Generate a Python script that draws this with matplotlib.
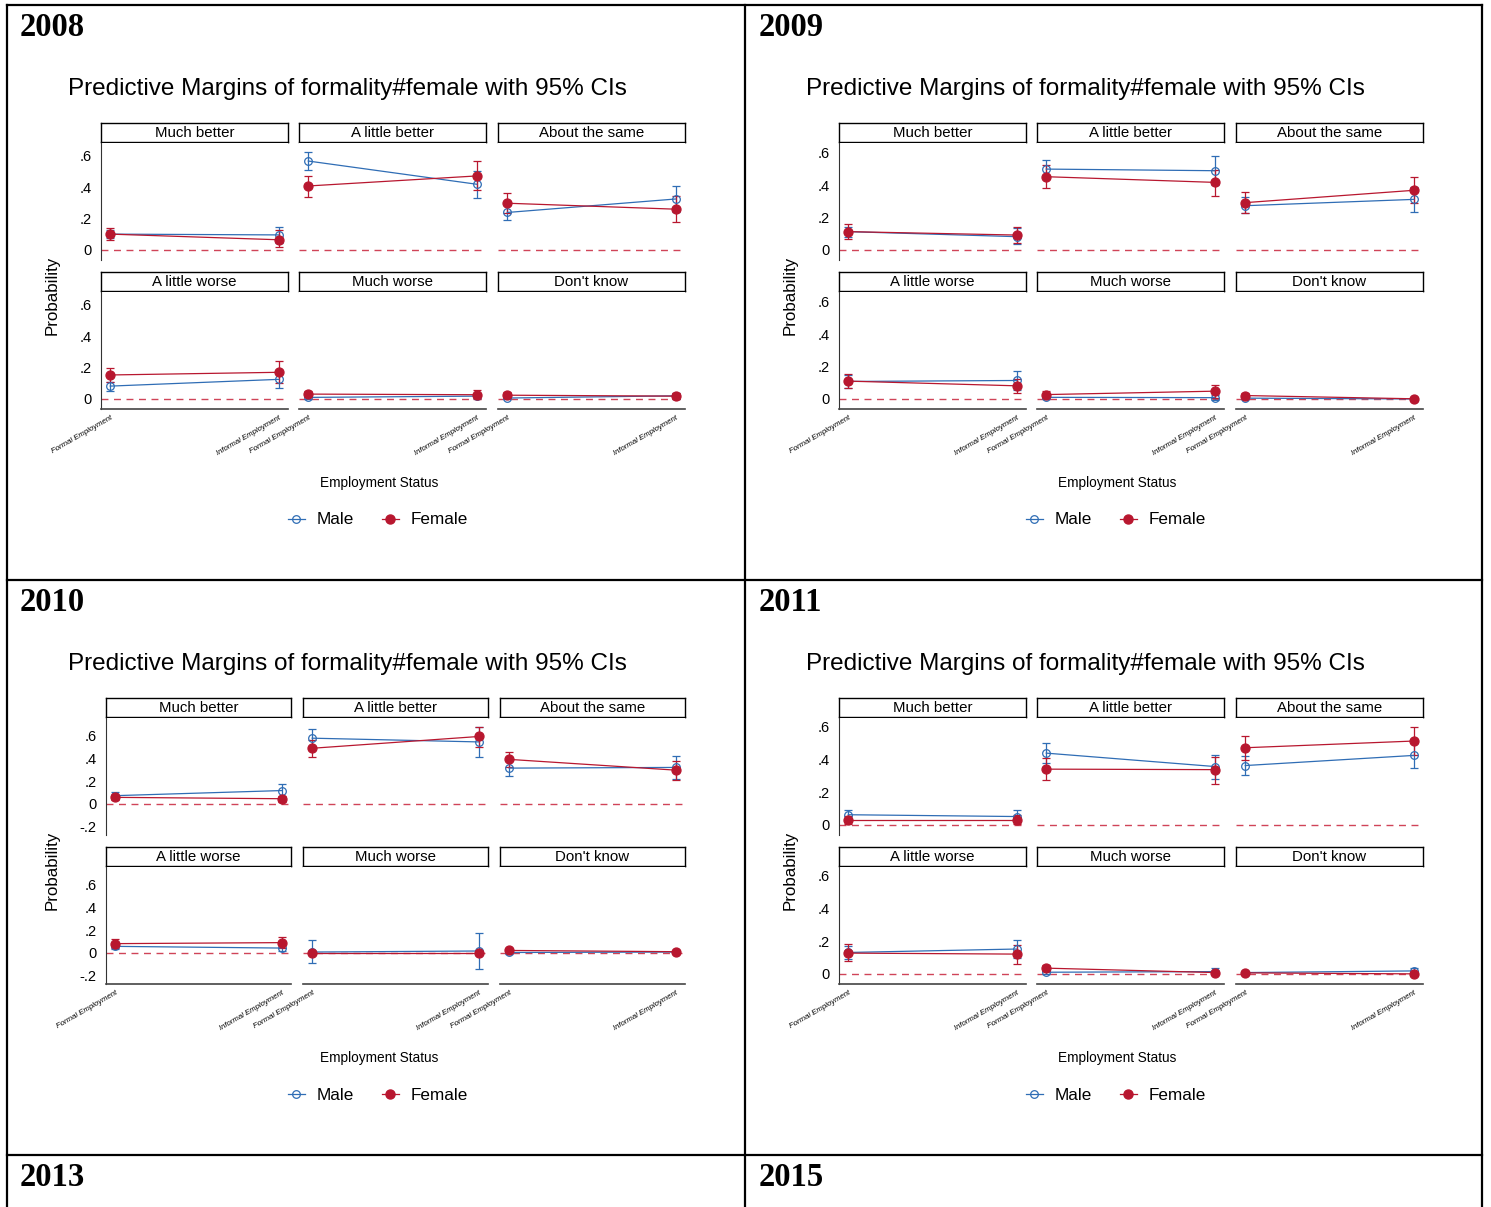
import matplotlib
matplotlib.use("Agg")
import matplotlib.pyplot as plt
from matplotlib.lines import Line2D

W, H = 1491, 1207

outcomes = ["Much better", "A little better", "About the same",
            "A little worse", "Much worse", "Don't know"]
status_labels = ["Formal Employment", "Informal Employment"]
years = ["2008", "2009", "2010", "2011"]
blank_years = ["2013", "2015"]

# (formal, informal) per outcome
male_2008 = [(0.100, 0.095), (0.566, 0.418), (0.238, 0.324), (0.081, 0.124), (0.009, 0.017), (0.005, 0.019)]
male_lo_2008 = [(0.075, 0.045), (0.509, 0.331), (0.190, 0.244), (0.049, 0.066), (0.000, 0.005), (0.000, 0.000)]
male_hi_2008 = [(0.128, 0.148), (0.624, 0.503), (0.286, 0.407), (0.109, 0.184), (0.020, 0.030), (0.012, 0.040)]
female_2008 = [(0.100, 0.064), (0.407, 0.471), (0.297, 0.259), (0.152, 0.169), (0.030, 0.026), (0.023, 0.017)]
female_lo_2008 = [(0.060, 0.017), (0.339, 0.380), (0.235, 0.176), (0.105, 0.098), (0.010, 0.000), (0.002, 0.000)]
female_hi_2008 = [(0.138, 0.127), (0.473, 0.568), (0.360, 0.340), (0.199, 0.241), (0.050, 0.055), (0.045, 0.038)]

male_2009 = [(0.113, 0.082), (0.499, 0.489), (0.273, 0.312), (0.108, 0.114), (0.010, 0.008), (0.005, 0.000)]
male_lo_2009 = [(0.080, 0.035), (0.452, 0.400), (0.226, 0.232), (0.070, 0.056), (0.000, -0.005), (0.000, 0.000)]
male_hi_2009 = [(0.144, 0.134), (0.555, 0.579), (0.325, 0.390), (0.145, 0.172), (0.020, 0.025), (0.010, 0.002)]
female_2009 = [(0.113, 0.092), (0.452, 0.417), (0.292, 0.368), (0.110, 0.081), (0.027, 0.048), (0.021, 0.001)]
female_lo_2009 = [(0.066, 0.041), (0.380, 0.333), (0.226, 0.288), (0.066, 0.035), (0.008, 0.006), (0.004, 0.000)]
female_hi_2009 = [(0.158, 0.144), (0.524, 0.493), (0.355, 0.452), (0.155, 0.124), (0.048, 0.087), (0.037, 0.003)]

male_2010 = [(0.071, 0.116), (0.578, 0.545), (0.314, 0.320), (0.056, 0.041), (0.006, 0.015), (0.002, 0.006)]
male_lo_2010 = [(0.045, 0.056), (0.500, 0.415), (0.243, 0.219), (0.036, 0.015), (-0.095, -0.148), (-0.010, 0.000)]
male_hi_2010 = [(0.100, 0.175), (0.658, 0.675), (0.385, 0.420), (0.095, 0.065), (0.110, 0.175), (0.012, 0.012)]
female_2010 = [(0.056, 0.044), (0.489, 0.593), (0.391, 0.296), (0.080, 0.089), (0.000, 0.000), (0.020, 0.009)]
female_lo_2010 = [(0.030, 0.015), (0.415, 0.504), (0.323, 0.213), (0.044, 0.044), (-0.005, -0.005), (0.010, 0.000)]
female_hi_2010 = [(0.080, 0.071), (0.563, 0.681), (0.456, 0.376), (0.119, 0.139), (0.005, 0.005), (0.030, 0.018)]

male_2011 = [(0.062, 0.051), (0.439, 0.357), (0.363, 0.425), (0.131, 0.152), (0.010, 0.014), (0.008, 0.018)]
male_lo_2011 = [(0.035, 0.020), (0.379, 0.281), (0.304, 0.345), (0.090, 0.096), (-0.002, 0.000), (0.000, 0.002)]
male_hi_2011 = [(0.088, 0.088), (0.498, 0.430), (0.420, 0.503), (0.168, 0.209), (0.020, 0.035), (0.016, 0.035)]
female_2011 = [(0.031, 0.031), (0.341, 0.338), (0.472, 0.513), (0.127, 0.121), (0.035, 0.008), (0.006, 0.000)]
female_lo_2011 = [(0.008, 0.004), (0.273, 0.252), (0.400, 0.427), (0.076, 0.062), (0.015, 0.000), (0.000, -0.005)]
female_hi_2011 = [(0.055, 0.062), (0.410, 0.416), (0.544, 0.601), (0.183, 0.178), (0.055, 0.016), (0.012, 0.005)]

BLUE = "#2f6db5"
RED = "#b8172f"
ZERO = "#d04458"

plt.rcParams["font.family"] = ["Liberation Sans", "DejaVu Sans"]

fig = plt.figure(figsize=(W / 100, H / 100), dpi=100)


def px_axes(x0, y0, x1, y1):
    return fig.add_axes([x0 / W, 1 - y1 / H, (x1 - x0) / W, (y1 - y0) / H])


def draw_series(ax, est, lo, hi, color, filled):
    xs = [0, 1]
    yerr = [[e - l for e, l in zip(est, lo)], [h - e for e, h in zip(est, hi)]]
    ax.errorbar(xs, est, yerr=yerr, color=color, lw=0.9, elinewidth=0.9,
                capsize=2.8, capthick=0.9, marker="o",
                ms=6.5 if filled else 5.5,
                mfc=color if filled else "none", mec=color, mew=0.9, zorder=3)


def draw_year(dx, dy, cols, ylim, yticks, yticklabels, male, male_lo, male_hi,
              female, female_lo, female_hi):
    fig.text((68 + dx) / W, 1 - (89 + dy) / H,
             "Predictive Margins of formality#female with 95% CIs",
             fontsize=17.5, ha="left", va="center")
    rows = [(123, 143, 260), (272, 292, 409)]
    for r, (s0, p0, p1) in enumerate(rows):
        for c, (x0, x1) in enumerate(cols):
            k = r * 3 + c
            sx = px_axes(x0 + dx, s0 + dy, x1 + dx, p0 + dy - 1)
            sx.set_xticks([])
            sx.set_yticks([])
            for sp in sx.spines.values():
                sp.set_linewidth(1.0)
            sx.text(0.5, 0.45, outcomes[k], ha="center", va="center",
                    fontsize=10.8, transform=sx.transAxes)

            ax = px_axes(x0 + dx, p0 + dy, x1 + dx, p1 + dy)
            ax.set_xlim(-0.055, 1.055)
            ax.set_ylim(*ylim)
            ax.axhline(0, color=ZERO, lw=1.0, ls=(0, (5, 4)), zorder=1)
            draw_series(ax, male[k], male_lo[k], male_hi[k], BLUE, False)
            draw_series(ax, female[k], female_lo[k], female_hi[k], RED, True)
            for side in ("top", "right"):
                ax.spines[side].set_visible(False)
            ax.spines["left"].set_visible(c == 0)
            ax.spines["left"].set_color("#333333")
            ax.spines["bottom"].set_visible(r == 1)
            ax.spines["bottom"].set_color("#444444")
            ax.spines["bottom"].set_linewidth(1.2)
            if c == 0:
                ax.set_yticks(yticks)
                ax.set_yticklabels(yticklabels, fontsize=10.5)
                ax.tick_params(axis="y", length=0, pad=7)
            else:
                ax.set_yticks([])
            if r == 1:
                ax.set_xticks([0, 1])
                ax.set_xticklabels(status_labels, fontsize=5.6, style="italic",
                                   rotation=30, ha="right",
                                   rotation_mode="anchor")
                ax.tick_params(axis="x", length=0, pad=4)
            else:
                ax.set_xticks([])
    fig.text((52 + dx) / W, 1 - (295 + dy) / H, "Probability", rotation=90,
             fontsize=12.2, ha="center", va="center")
    fig.text((379 + dx) / W, 1 - (483 + dy) / H, "Employment Status",
             fontsize=9.8, ha="center", va="center")
    handles = [
        Line2D([], [], color=BLUE, lw=0.9, marker="o", mfc="none", mec=BLUE, ms=5.5, mew=0.9),
        Line2D([], [], color=RED, lw=0.9, marker="o", mfc=RED, mec=RED, ms=6.5),
    ]
    fig.legend(handles, ["Male", "Female"], loc="center", ncol=2,
               bbox_to_anchor=((378 + dx) / W, 1 - (520 + dy) / H),
               frameon=False, fontsize=12.3, handlelength=1.0,
               handletextpad=0.7, columnspacing=1.6)


cols_std = [(101, 288), (299, 486), (498, 685)]
cols_2010 = [(106, 291), (303, 488), (500, 685)]
ticks_std = [0, 0.2, 0.4, 0.6]
labels_std = ["0", ".2", ".4", ".6"]

draw_year(0, 0, cols_std, (-0.065, 0.681), ticks_std, labels_std,
          male_2008, male_lo_2008, male_hi_2008,
          female_2008, female_lo_2008, female_hi_2008)
draw_year(738, 0, cols_std, (-0.062, 0.66), ticks_std, labels_std,
          male_2009, male_lo_2009, male_hi_2009,
          female_2009, female_lo_2009, female_hi_2009)
draw_year(0, 575, cols_2010, (-0.276, 0.756), [-0.2] + ticks_std, ["-.2"] + labels_std,
          male_2010, male_lo_2010, male_hi_2010,
          female_2010, female_lo_2010, female_hi_2010)
draw_year(738, 575, cols_std, (-0.062, 0.654), ticks_std, labels_std,
          male_2011, male_lo_2011, male_hi_2011,
          female_2011, female_lo_2011, female_hi_2011)

# table grid lines
for x in (7, 745, 1482):
    fig.add_artist(Line2D([x / W, x / W], [1 - 5 / H, 0], transform=fig.transFigure,
                          color="black", lw=1.6))
for y in (5, 580, 1155):
    fig.add_artist(Line2D([7 / W, 1482 / W], [1 - y / H, 1 - y / H],
                          transform=fig.transFigure, color="black", lw=1.6))

year_pos = [(20, 27), (759, 27), (20, 602), (759, 602)]
for yr, (x, y) in zip(years, year_pos):
    fig.text(x / W, 1 - y / H, yr, fontsize=23.5, fontweight="bold",
             family="Liberation Serif", ha="left", va="center")
for yr, (x, y) in zip(blank_years, [(20, 1177), (759, 1177)]):
    fig.text(x / W, 1 - y / H, yr, fontsize=23.5, fontweight="bold",
             family="Liberation Serif", ha="left", va="center")

fig.savefig("out.png", dpi=100)
